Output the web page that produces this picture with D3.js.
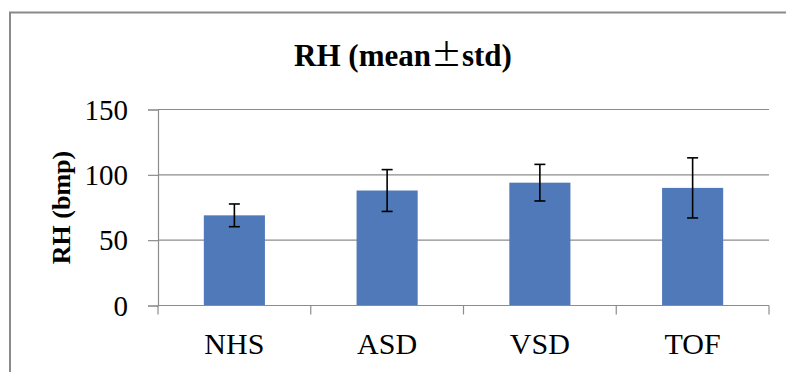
<!DOCTYPE html>
<html>
<head>
<meta charset="utf-8">
<script src="https://cdn.jsdelivr.net/npm/d3@7"></script>
<style>
  html, body { margin: 0; padding: 0; background: #fff; }
  svg { display: block; }
  text { font-family: "Liberation Serif", "Times New Roman", serif; fill: #000; }
</style>
</head>
<body>
<svg id="chart" width="786" height="372"></svg>
<script>
// Resting heart rate by group
const categories = ["NHS", "ASD", "VSD", "TOF"];
const means = [69, 88, 94, 90];
const stds = [8.7, 16, 14, 23];
const yTicks = [0, 50, 100, 150];
const titleParts = ["RH (mean", "\u00B1", "std)"];
const yLabel = "RH (bmp)";

const W = 786, H = 372;
const m = { left: 158, right: 17, top: 109.5, bottom: 66.5 };
const svg = d3.select("#chart");

// chart frame
svg.append("rect")
  .attr("x", 10).attr("y", 12.5)
  .attr("width", 800).attr("height", 400)
  .attr("fill", "none").attr("stroke", "#8a8a8a").attr("stroke-width", 2);

const x = d3.scaleBand().domain(categories)
  .range([m.left, W - m.right]).paddingInner(0.6).paddingOuter(0.3);
const y = d3.scaleLinear().domain([0, 150]).range([H - m.bottom, m.top]);

// gridlines
svg.append("g").selectAll("line").data(yTicks.filter(d => d > 0)).join("line")
  .attr("x1", m.left).attr("x2", W - m.right)
  .attr("y1", d => y(d)).attr("y2", d => y(d))
  .attr("stroke", "#8c8c8c").attr("stroke-width", 1.2);

// bars
svg.append("g").selectAll("rect").data(categories).join("rect")
  .attr("x", d => x(d)).attr("width", x.bandwidth())
  .attr("y", (d, i) => y(means[i]))
  .attr("height", (d, i) => y(0) - y(means[i]))
  .attr("fill", "#4f79b8");

// error bars
const eb = svg.append("g").attr("stroke", "#000").attr("stroke-width", 1.6);
categories.forEach((c, i) => {
  const cx = x(c) + x.bandwidth() / 2;
  const hi = y(means[i] + stds[i]), lo = y(means[i] - stds[i]);
  eb.append("line").attr("x1", cx).attr("x2", cx).attr("y1", hi).attr("y2", lo);
  eb.append("line").attr("x1", cx - 5.5).attr("x2", cx + 5.5).attr("y1", hi).attr("y2", hi);
  eb.append("line").attr("x1", cx - 5.5).attr("x2", cx + 5.5).attr("y1", lo).attr("y2", lo);
});

// y axis
const yAxis = svg.append("g").attr("transform", `translate(${m.left},0)`)
  .call(d3.axisLeft(y).tickValues(yTicks).tickSize(10).tickPadding(20));
yAxis.select(".domain").attr("stroke", "#8c8c8c").attr("stroke-width", 1.2);
yAxis.selectAll(".tick line").attr("stroke", "#8c8c8c").attr("stroke-width", 1.2);
yAxis.selectAll("text").attr("font-size", 29).attr("font-family", "Liberation Serif")
  .attr("dy", "0.33em");

// x axis with boundary ticks between categories
const xAxisG = svg.append("g").attr("transform", `translate(0,${y(0)})`);
xAxisG.append("line").attr("x1", m.left).attr("x2", W - m.right)
  .attr("stroke", "#8c8c8c").attr("stroke-width", 1.2);
const bounds = d3.range(categories.length + 1).map(i => m.left + i * (W - m.left - m.right) / categories.length);
xAxisG.selectAll("line.tk").data(bounds).join("line").attr("class", "tk")
  .attr("x1", d => d).attr("x2", d => d).attr("y1", 0).attr("y2", 9)
  .attr("stroke", "#8c8c8c").attr("stroke-width", 1.2);
xAxisG.selectAll("text").data(categories).join("text")
  .attr("x", d => x(d) + x.bandwidth() / 2).attr("y", 48)
  .attr("text-anchor", "middle").attr("font-size", 30)
  .text(d => d);

// title, with a full-width plus-minus sign
const title = svg.append("text").attr("x", 403).attr("y", 66)
  .attr("text-anchor", "middle").attr("font-size", 31).attr("font-weight", "bold");
title.append("tspan").text(titleParts[0]);
title.append("tspan").attr("font-family", "Noto Sans CJK SC").attr("font-weight", "normal")
  .text(titleParts[1]);
title.append("tspan").text(titleParts[2]);

// y-axis title
svg.append("text")
  .attr("transform", `translate(70,${207.5}) rotate(-90)`)
  .attr("text-anchor", "middle").attr("font-size", 26).attr("font-weight", "bold")
  .text(yLabel);
</script>
</body>
</html>
